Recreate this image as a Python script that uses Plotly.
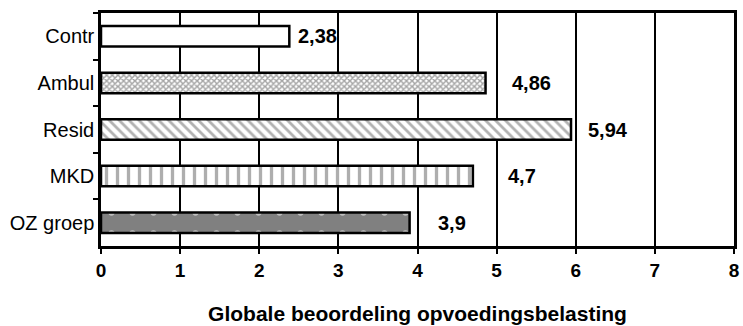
import plotly.graph_objects as go

# Scores per group
groups = ["Contr", "Ambul", "Resid", "MKD", "OZ groep"]
scores = [2.38, 4.86, 5.94, 4.7, 3.9]
score_labels = ["2,38", "4,86", "5,94", "4,7", "3,9"]
x_ticks = [0, 1, 2, 3, 4, 5, 6, 7, 8]

# Fill style per bar: (pattern shape, pattern colour, background, pattern size, solidity)
styles = [
    ("", "black", "white", 8, 0.3),
    ("x", "#4a4a4a", "white", 4, 0.6),
    ("\\", "#666666", "white", 7, 0.4),
    ("|", "#5e5e5e", "white", 11, 0.3),
    (".", "white", "#808080", 21, 0.07),
]
label_shift = [7, 24, 15, 33, 26]
FONT = "Liberation Sans, Arial, sans-serif"

fig = go.Figure()
for g, v, (shape, fgc, bgc, sz, sol) in zip(groups, scores, styles):
    fig.add_trace(go.Bar(
        y=[g], x=[v], orientation="h", width=0.44,
        marker=dict(
            color=bgc,
            line=dict(color="black", width=2.5),
            pattern=dict(shape=shape, fgcolor=fgc, size=sz, solidity=sol,
                         fillmode="overlay"),
        ),
        hoverinfo="skip",
    ))

for g, v, t, dx in zip(groups, scores, score_labels, label_shift):
    fig.add_annotation(x=v, y=g, text="<b>" + t + "</b>", showarrow=False,
                       xanchor="left", yanchor="middle", xshift=dx,
                       font=dict(family=FONT, size=20, color="black"))

fig.update_layout(
    width=743, height=326,
    margin=dict(l=101, r=4, t=13, b=77),
    paper_bgcolor="white", plot_bgcolor="white",
    showlegend=False, barmode="overlay",
    font=dict(family=FONT, color="black"),
)
fig.update_xaxes(
    range=[0, 8], tickvals=x_ticks, ticktext=["<b>%d</b>" % v for v in x_ticks],
    showgrid=True, gridcolor="black", gridwidth=2,
    showline=True, linecolor="black", linewidth=2.5, mirror=True,
    ticks="outside", ticklen=5, tickcolor="black", tickwidth=2,
    tickfont=dict(size=19, family=FONT),
    zeroline=False,
    title=dict(text="<b>Globale beoordeling opvoedingsbelasting</b>",
               font=dict(size=21, family=FONT), standoff=27),
)
fig.update_yaxes(
    categoryorder="array", categoryarray=groups, autorange="reversed",
    showline=True, linecolor="black", linewidth=2.5, mirror=True,
    ticks="outside", ticklen=5, tickcolor="black", tickwidth=2,
    tickson="boundaries", showgrid=False,
    tickfont=dict(size=20, family=FONT),
)

fig.write_html("out.html")
